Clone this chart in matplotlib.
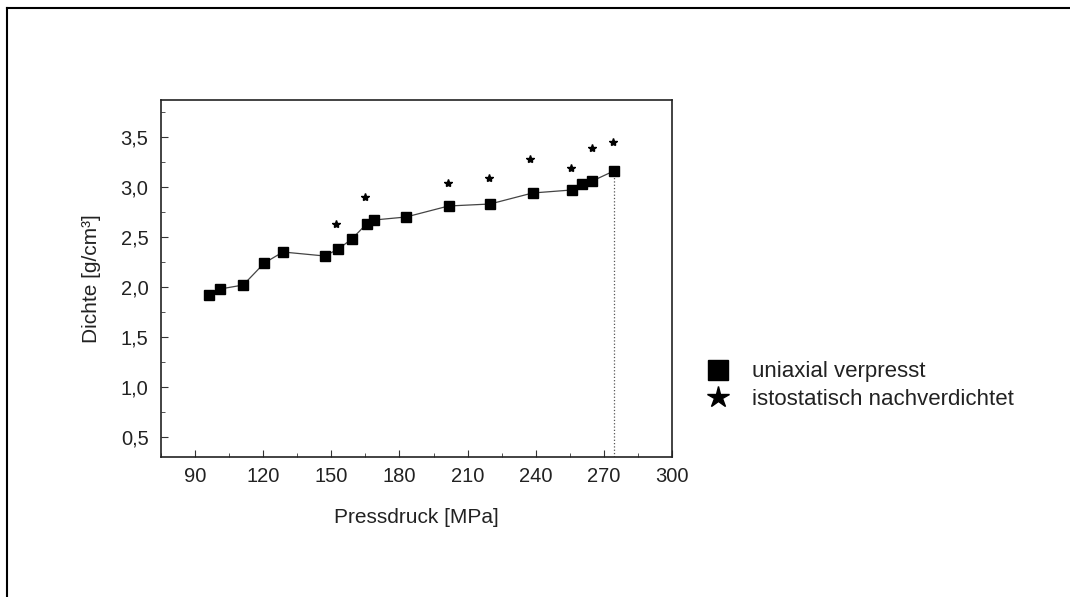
import matplotlib
matplotlib.use("Agg")
from matplotlib import pyplot as plt
from matplotlib.lines import Line2D
from matplotlib.ticker import MultipleLocator, FuncFormatter

# uniaxial verpresst
druck_uni = [96.3, 101.0, 111.2, 120.5, 128.7, 147.1, 153.1, 159.0, 165.5, 168.8,
             182.9, 201.6, 219.9, 238.6, 255.8, 260.5, 264.9, 274.4]
dichte_uni = [1.92, 1.98, 2.02, 2.24, 2.35, 2.31, 2.38, 2.48, 2.63, 2.67,
              2.70, 2.81, 2.83, 2.94, 2.97, 3.03, 3.06, 3.16]

# istostatisch nachverdichtet
druck_iso = [152.1, 164.7, 201.2, 219.3, 237.7, 255.5, 264.6, 274.1]
dichte_iso = [2.63, 2.90, 3.04, 3.09, 3.28, 3.19, 3.39, 3.45]

plt.rcParams['font.family'] = ['Liberation Sans', 'DejaVu Sans']
textcol = '#222222'

fig = plt.figure(figsize=(10.7, 5.97), dpi=100)
ax = fig.add_axes([0.1505, 0.2345, 0.4775, 0.598])

ax.plot(druck_uni, dichte_uni, color='#444444', lw=0.9, marker='s', ms=7,
        mfc='black', mec='black', zorder=3)
ax.plot(druck_iso, dichte_iso, ls='none', marker='*', ms=6, color='black', zorder=3)
ax.plot([druck_uni[-1], druck_uni[-1]], [0.3, dichte_uni[-1]], ls=':', color='#555555', lw=0.9)

ax.set_xlim(75, 300)
ax.set_ylim(0.3, 3.87)
ax.xaxis.set_major_locator(MultipleLocator(30))
ax.xaxis.set_minor_locator(MultipleLocator(15))
ax.yaxis.set_major_locator(MultipleLocator(0.5))
ax.yaxis.set_minor_locator(MultipleLocator(0.25))
ax.yaxis.set_major_formatter(FuncFormatter(lambda v, p: ("%.1f" % v).replace('.', ',')))
ax.tick_params(which='both', direction='in', labelsize=14.5, labelcolor=textcol, color='#333333')
ax.tick_params(which='major', length=5)
ax.tick_params(which='minor', length=3)
ax.tick_params(axis='x', pad=7)
ax.tick_params(axis='y', pad=9)
for s in ax.spines.values():
    s.set_linewidth(1.2)
    s.set_color('#222222')

ax.set_xlabel("Pressdruck [MPa]", fontsize=15, color=textcol, labelpad=16)
ax.set_ylabel("Dichte [g/cm³]", fontsize=15, color=textcol, labelpad=14)

handles = [Line2D([], [], ls='none', marker='s', ms=14, color='black'),
           Line2D([], [], ls='none', marker='*', ms=16, color='black')]
fig.legend(handles, ["uniaxial verpresst", "istostatisch nachverdichtet"],
           loc='upper left', bbox_to_anchor=(0.6395, 0.428), frameon=False,
           fontsize=16, labelcolor=textcol, handlelength=1.2, handletextpad=0.95,
           labelspacing=0.28)

# border of the original figure frame
fig.add_artist(Line2D([0.0065, 0.0065], [0, 0.987], color='black', lw=1.5))
fig.add_artist(Line2D([0.0065, 1], [0.987, 0.987], color='black', lw=1.5))

fig.savefig("out.png", dpi=100)
